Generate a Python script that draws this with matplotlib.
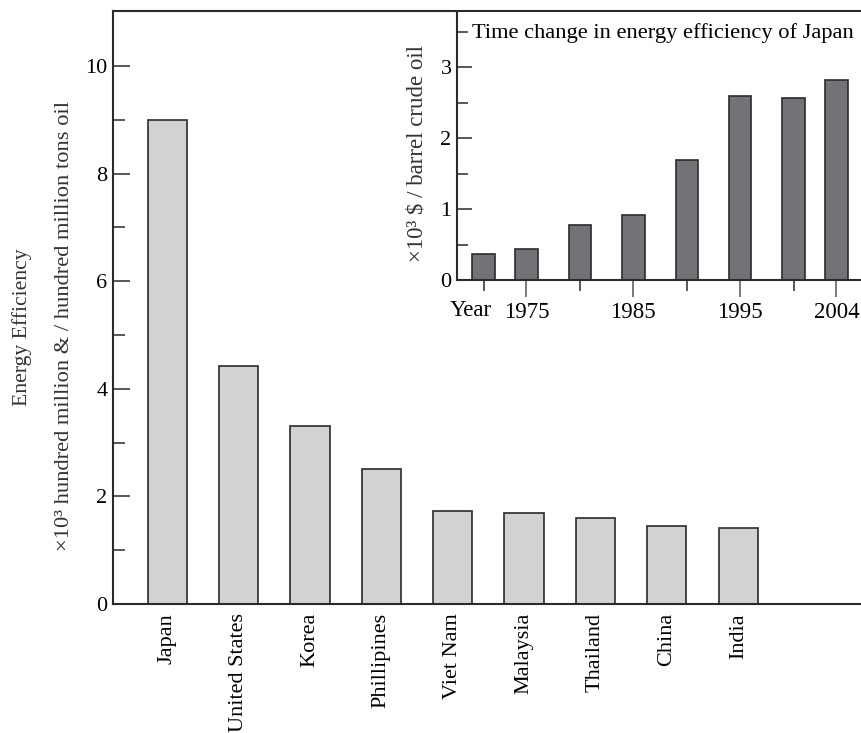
import numpy as np
import matplotlib.pyplot as plt
from matplotlib.transforms import blended_transform_factory

plt.rcParams['font.family'] = ['Liberation Serif', 'DejaVu Serif']

# dados do grafico principal
paises = ['Japan', 'United States', 'Korea', 'Phillipines', 'Viet Nam',
          'Malaysia', 'Thailand', 'China', 'India']
eficiencia = [9.0, 4.43, 3.31, 2.51, 1.73, 1.69, 1.60, 1.45, 1.41]

# dados do grafico interno (Japao ao longo do tempo)
anos = [1971, 1975, 1980, 1985, 1990, 1995, 2000, 2004]
eficiencia_japao = [0.36, 0.44, 0.77, 0.92, 1.69, 2.60, 2.56, 2.82]
anos_rotulados = [1975, 1985, 1995, 2004]

cor_linha = '#2b2b2b'

fig = plt.figure(figsize=(8.61, 7.33), dpi=100)

# grafico principal
ax = fig.add_axes([113/861, 1-604/733, 1-113/861, (604-11)/733])
x = np.arange(len(paises))
ax.bar(x, eficiencia, width=0.55, color='#d1d2d4', edgecolor=cor_linha, linewidth=1.2)
ax.set_xlim(-0.76, 9.72)
ax.set_ylim(0, 11.02)
ax.set_yticks([0, 2, 4, 6, 8, 10])
ax.set_yticks([1, 3, 5, 7, 9], minor=True)
ax.tick_params(axis='y', which='major', direction='in', length=12, width=1.1,
               color=cor_linha, labelsize=16, pad=4)
ax.tick_params(axis='y', which='minor', direction='in', length=8.5, width=1.1,
               color=cor_linha)
ax.set_xticks(x)
ax.set_xticklabels(paises, rotation=90, va='top', ha='center')
ax.tick_params(axis='x', length=0, labelsize=16, pad=6.5)
ax.spines['right'].set_visible(False)
for s in ['left', 'bottom', 'top']:
    ax.spines[s].set_linewidth(1.5)
    ax.spines[s].set_color(cor_linha)

fig.text(22/861, 1-327/733, 'Energy Efficiency', rotation=90,
         ha='center', va='center', fontsize=15.6, color='#333333')
fig.text(65/861, 1-326/733, '×10³ hundred million & / hundred million tons oil',
         rotation=90, ha='center', va='center', fontsize=16.2, color='#333333')

# grafico interno
ax2 = fig.add_axes([457/861, 1-280/733, 1-457/861, (280-12)/733])
ax2.bar(anos, eficiencia_japao, width=2.1, color='#727377', edgecolor=cor_linha, linewidth=1.2)
ax2.set_xlim(1968.5, 2006.3)
ax2.set_ylim(0, 3.78)
ax2.set_yticks([0, 1, 2, 3])
ax2.set_yticks([0.5, 1.5, 2.5, 3.5], minor=True)
ax2.tick_params(axis='y', which='major', direction='in', length=11, width=1.1,
                color=cor_linha, labelsize=16, pad=4)
ax2.tick_params(axis='y', which='minor', direction='in', length=8, width=1.1,
                color=cor_linha)
ax2.set_xticks(anos_rotulados)
ax2.set_xticklabels([str(a) for a in anos_rotulados])
ax2.set_xticks([a for a in anos if a not in anos_rotulados], minor=True)
ax2.tick_params(axis='x', which='major', direction='out', length=12.5, width=1.1,
                color='#555555', labelsize=16.5, pad=3)
ax2.tick_params(axis='x', which='minor', direction='out', length=8, width=1.1,
                color=cor_linha)
trans = blended_transform_factory(ax2.transData, ax2.transAxes)
ax2.text(anos[0] - 1.2, -0.075, 'Year', transform=trans, ha='center', va='top', fontsize=16.5)
fig.text(417/861, 1-153/733, '×10³ $ / barrel crude oil', rotation=90,
         ha='center', va='center', fontsize=16.5, color='#333333')
ax2.text(0.037, 0.96, 'Time change in energy efficiency of Japan', transform=ax2.transAxes,
         ha='left', va='top', fontsize=16.1)
ax2.spines['right'].set_visible(False)
ax2.spines['top'].set_visible(False)
for s in ['left', 'bottom']:
    ax2.spines[s].set_linewidth(1.5)
    ax2.spines[s].set_color(cor_linha)

fig.savefig('out.png', dpi=100)
